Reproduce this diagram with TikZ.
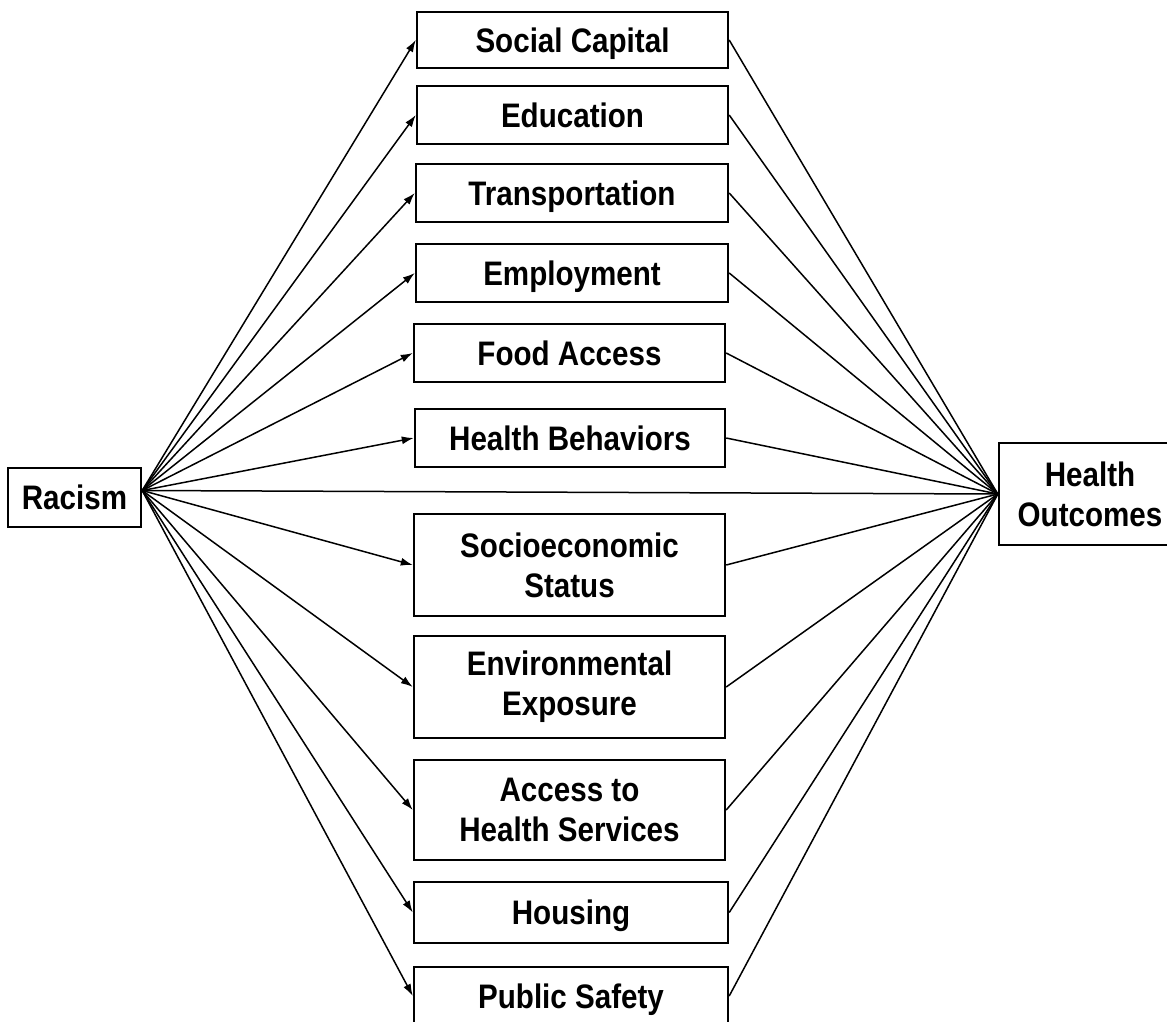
\documentclass[tikz,border=0pt]{standalone}
\usepackage{fontspec}
\setmainfont{Liberation Sans}[FakeStretch=0.87]
\usetikzlibrary{arrows.meta}
\begin{document}
\begin{tikzpicture}[x=1pt,y=-1pt,
  box/.style={draw, line width=2.4pt, inner sep=0pt, align=center,
    font=\fontsize{34}{40}\selectfont\bfseries},
  one/.style={text height=24pt, text depth=0pt},
  link/.style={line width=1.5pt},
  arr/.style={link, -{Latex[length=12pt,width=8pt]}}]
\useasboundingbox (0,0) rectangle (1167,1021);
\clip (0,0) rectangle (1167,1021);
\fill[white] (0,0) rectangle (1167,1021);

\node[box, one, minimum width=133pt, minimum height=59pt] (rac) at (74.5,497.5) {Racism};
\node[box, minimum width=182pt, minimum height=102pt] (ho) at (1090,494) {Health\\Outcomes};

\node[box, one, minimum width=311pt, minimum height=56pt] (sc) at (572.5,40) {Social Capital};
\node[box, one, minimum width=311pt, minimum height=58pt] (ed) at (572.5,115) {Education};
\node[box, one, minimum width=312pt, minimum height=58pt] (tr) at (572,193) {Transportation};
\node[box, one, minimum width=312pt, minimum height=58pt] (em) at (572,273) {Employment};
\node[box, one, minimum width=311pt, minimum height=58pt] (fa) at (569.5,353) {Food Access};
\node[box, one, minimum width=310pt, minimum height=58pt] (hb) at (570,438) {Health Behaviors};
\node[box, minimum width=311pt, minimum height=102pt] (se) at (569.5,565) {Socioeconomic\\Status};
\node[box, minimum width=311pt, minimum height=102pt] (ee) at (569.5,687) {Environmental\\Exposure};
\node[box, minimum width=311pt, minimum height=100pt] (ah) at (569.5,810) {Access to\\Health Services};
\node[box, one, minimum width=314pt, minimum height=61pt] (ho2) at (571,912.5) {Housing};
\node[box, one, minimum width=314pt, minimum height=58pt] (ps) at (571,996) {Public Safety};

\coordinate (rp) at ([yshift=7pt]rac.east);

\foreach \n in {sc,ed,tr,em,fa,hb,se,ee,ah,ho2,ps}{
  \draw[arr] (rp) -- (\n.west);
  \draw[link] (\n.east) -- (ho.west);
}
\draw[link] (rp) -- (ho.west);
\end{tikzpicture}
\end{document}
